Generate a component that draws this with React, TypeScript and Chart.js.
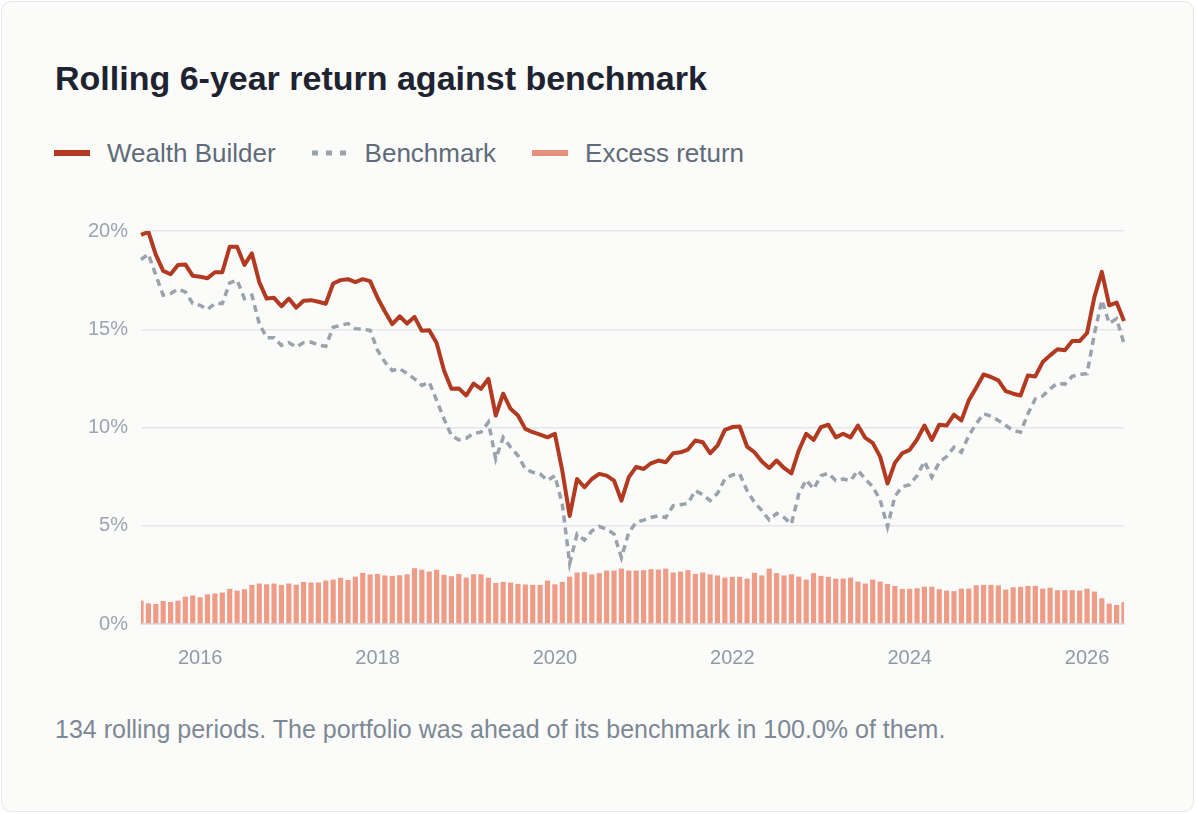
import React, { useEffect, useRef } from 'react';
import { Chart, registerables } from 'chart.js';

Chart.register(...registerables);

const FONT = '"Liberation Sans", Arial, Helvetica, sans-serif';

// monthly rolling windows, May 2015 .. Jun 2026
const START_YEAR = 2015;
const START_MONTH = 5;
const PERIODS = 134;
const months: string[] = [];
for (let i = 0; i < PERIODS; i++) {
  const m = START_MONTH - 1 + i;
  const y = START_YEAR + Math.floor(m / 12);
  months.push(`${y}-${String((m % 12) + 1).padStart(2, '0')}`);
}

const yearTicks = ['2016', '2018', '2020', '2022', '2024', '2026'];

const wealthBuilder = [
  19.8, 19.95, 18.8, 17.97, 17.8, 18.27, 18.3, 17.72, 17.67, 17.6, 17.9, 17.9,
  19.2, 19.2, 18.27, 18.86, 17.4, 16.56, 16.6, 16.17, 16.56, 16.1, 16.45, 16.48,
  16.4, 16.3, 17.33, 17.5, 17.55, 17.4, 17.55, 17.45, 16.6, 15.9, 15.26, 15.66,
  15.29, 15.63, 14.92, 14.95, 14.3, 12.9, 11.97, 11.99, 11.63, 12.23, 11.97, 12.48,
  10.61, 11.72, 10.95, 10.61, 9.93, 9.76, 9.64, 9.5, 9.68, 7.8, 5.5, 7.38,
  6.96, 7.38, 7.64, 7.55, 7.3, 6.28, 7.47, 8.0, 7.89, 8.18, 8.32, 8.23,
  8.69, 8.74, 8.88, 9.34, 9.25, 8.69, 9.08, 9.88, 10.02, 10.05, 9.03, 8.74,
  8.27, 7.94, 8.32, 7.94, 7.67, 8.83, 9.68, 9.37, 10.02, 10.14, 9.5, 9.68,
  9.5, 10.1, 9.47, 9.22, 8.52, 7.15, 8.2, 8.69, 8.86, 9.39, 10.1, 9.37,
  10.14, 10.1, 10.65, 10.36, 11.38, 12.02, 12.7, 12.57, 12.4, 11.85, 11.72, 11.63,
  12.65, 12.6, 13.33, 13.67, 13.98, 13.93, 14.4, 14.4, 14.81, 16.65, 17.92, 16.22,
  16.36, 15.42,
];

const benchmark = [
  18.55, 18.83, 17.76, 16.73, 16.82, 17.04, 16.9, 16.31, 16.22, 16.0, 16.31, 16.31,
  17.36, 17.5, 16.56, 16.73, 15.29, 14.57, 14.57, 14.18, 14.32, 14.1, 14.32, 14.35,
  14.2, 14.13, 15.1, 15.2, 15.29, 15.03, 15.0, 14.95, 13.93, 13.33, 12.9, 13.0,
  12.74, 12.48, 12.14, 12.31, 11.38, 10.44, 9.59, 9.37, 9.45, 9.7, 9.76, 10.27,
  8.4, 9.5, 9.0, 8.57, 7.89, 7.72, 7.64, 7.3, 7.55, 6.1, 3.08, 4.58,
  4.27, 4.74, 4.96, 4.83, 4.58, 3.38, 4.66, 5.17, 5.29, 5.42, 5.51, 5.42,
  6.02, 6.07, 6.14, 6.79, 6.58, 6.28, 6.65, 7.38, 7.59, 7.64, 6.79, 6.19,
  5.77, 5.29, 5.63, 5.42, 5.09, 6.62, 7.33, 6.87, 7.55, 7.67, 7.3, 7.38,
  7.3, 7.81, 7.38, 6.99, 6.32, 4.95, 6.5, 6.99, 7.09, 7.55, 8.28, 7.47,
  8.23, 8.52, 9.0, 8.74, 9.59, 10.19, 10.7, 10.58, 10.36, 10.1, 9.85, 9.76,
  10.7, 11.46, 11.6, 11.97, 12.26, 12.2, 12.6, 12.7, 12.74, 14.78, 16.48, 15.3,
  15.54, 14.27,
];

const excessReturn = [
  1.19, 1.05, 1.02, 1.17, 1.12, 1.19, 1.39, 1.45, 1.36, 1.51, 1.55, 1.6,
  1.79, 1.7, 1.77, 1.99, 2.06, 2.02, 2.06, 1.99, 2.06, 2.0, 2.14, 2.11,
  2.11, 2.21, 2.26, 2.35, 2.24, 2.41, 2.6, 2.52, 2.55, 2.47, 2.45, 2.48,
  2.53, 2.84, 2.76, 2.67, 2.76, 2.5, 2.43, 2.55, 2.36, 2.53, 2.53, 2.35,
  2.09, 2.14, 2.11, 2.04, 2.01, 1.99, 1.99, 2.21, 2.02, 2.14, 2.41, 2.62,
  2.64, 2.52, 2.59, 2.72, 2.72, 2.82, 2.72, 2.72, 2.74, 2.79, 2.77, 2.82,
  2.62, 2.67, 2.74, 2.55, 2.62, 2.52, 2.47, 2.36, 2.4, 2.4, 2.31, 2.6,
  2.47, 2.82, 2.59, 2.47, 2.53, 2.41, 2.26, 2.59, 2.45, 2.4, 2.31, 2.31,
  2.36, 2.16, 2.06, 2.26, 2.16, 2.04, 1.94, 1.79, 1.79, 1.82, 1.9, 1.9,
  1.77, 1.7, 1.67, 1.8, 1.8, 1.97, 1.99, 1.99, 1.96, 1.75, 1.87, 1.89,
  1.94, 1.94, 1.8, 1.85, 1.72, 1.72, 1.72, 1.7, 1.8, 1.65, 1.31, 1.04,
  0.97, 1.11,
];

const COLORS = {
  wealth: '#b23a20',
  bench: '#9aa3ad',
  excess: '#ee9b87',
  excessLegend: '#e8907a',
};

const RollingChart: React.FC = () => {
  const canvasRef = useRef<HTMLCanvasElement>(null);
  const chartRef = useRef<Chart | null>(null);

  useEffect(() => {
    if (!canvasRef.current) return;
    const ctx = canvasRef.current.getContext('2d');
    if (!ctx) return;
    if (chartRef.current) chartRef.current.destroy();

    chartRef.current = new Chart(ctx, {
      type: 'bar',
      data: {
        labels: months,
        datasets: [
          {
            type: 'line',
            label: 'Wealth Builder',
            data: wealthBuilder,
            borderColor: COLORS.wealth,
            borderWidth: 4,
            pointRadius: 0,
            tension: 0,
            borderJoinStyle: 'round',
            order: 1,
          },
          {
            type: 'line',
            label: 'Benchmark',
            data: benchmark,
            borderColor: COLORS.bench,
            borderWidth: 3.5,
            borderDash: [7, 5],
            pointRadius: 0,
            tension: 0,
            order: 2,
          },
          {
            type: 'bar',
            label: 'Excess return',
            data: excessReturn,
            backgroundColor: COLORS.excess,
            categoryPercentage: 1,
            barPercentage: 0.7,
            order: 3,
          },
        ],
      },
      options: {
        animation: false,
        responsive: true,
        maintainAspectRatio: false,
        layout: { padding: { top: 27, right: 10, left: 0, bottom: 0 } },
        plugins: { legend: { display: false }, tooltip: { enabled: false } },
        scales: {
          x: {
            offset: false,
            grid: { display: false, drawTicks: false },
            border: { display: true, color: '#d6dce3', width: 1.5 },
            ticks: {
              autoSkip: false,
              maxRotation: 0,
              padding: 22,
              color: '#8f9aa7',
              font: { family: FONT, size: 20 },
              callback: (_v, i) => {
                const [y, m] = months[i].split('-');
                return m === '01' && yearTicks.includes(y) ? y : '';
              },
            },
            afterFit: (scale) => {
              scale.height = 57;
            },
          },
          y: {
            min: 0,
            max: 20,
            grid: { color: '#e5e7eb', lineWidth: 1.5, drawTicks: false },
            border: { display: false },
            ticks: {
              stepSize: 5,
              padding: 13,
              color: '#9aa5b1',
              font: { family: FONT, size: 20 },
              callback: (v) => `${v}%`,
            },
            afterFit: (scale) => {
              scale.width = 86;
            },
          },
        },
      },
    });

    return () => chartRef.current?.destroy();
  }, []);

  return <canvas ref={canvasRef}></canvas>;
};

const Swatch: React.FC<{ color: string; dashed?: boolean }> = ({ color, dashed }) => (
  <svg width={36} height={8} style={{ display: 'block' }}>
    <line
      x1={0}
      y1={4}
      x2={36}
      y2={4}
      stroke={color}
      strokeWidth={dashed ? 5 : 6}
      strokeDasharray={dashed ? '6 8' : undefined}
    />
  </svg>
);

const legendItems = [
  { label: 'Wealth Builder', color: COLORS.wealth, dashed: false },
  { label: 'Benchmark', color: COLORS.bench, dashed: true },
  { label: 'Excess return', color: COLORS.excessLegend, dashed: false },
];

export default function App() {
  return (
    <div
      style={{
        position: 'fixed',
        left: 1,
        top: 1,
        width: 1193,
        height: 811,
        boxSizing: 'border-box',
        border: '1px solid #e4e6e9',
        borderRadius: 10,
        background: '#fbfbf9',
        fontFamily: FONT,
      }}
    >
      <div
        style={{
          position: 'absolute',
          left: 53,
          top: 56,
          fontSize: 34,
          lineHeight: '40px',
          fontWeight: 700,
          color: '#1d2330',
        }}
      >
        Rolling 6-year return against benchmark
      </div>
      <div
        style={{
          position: 'absolute',
          left: 52,
          top: 136,
          display: 'flex',
          alignItems: 'center',
          height: 30,
          fontSize: 26,
          color: '#5f6b7a',
        }}
      >
        {legendItems.map((it, i) => (
          <div
            key={it.label}
            style={{ display: 'flex', alignItems: 'center', marginLeft: i === 0 ? 0 : 36 }}
          >
            <Swatch color={it.color} dashed={it.dashed} />
            <span style={{ marginLeft: 17 }}>{it.label}</span>
          </div>
        ))}
      </div>
      <div style={{ position: 'absolute', left: 53, top: 202, width: 1091, height: 477 }}>
        <RollingChart />
      </div>
      <div
        style={{
          position: 'absolute',
          left: 53,
          top: 712,
          fontSize: 25,
          lineHeight: '30px',
          color: '#7d8896',
        }}
      >
        134 rolling periods. The portfolio was ahead of its benchmark in 100.0% of them.
      </div>
    </div>
  );
}
